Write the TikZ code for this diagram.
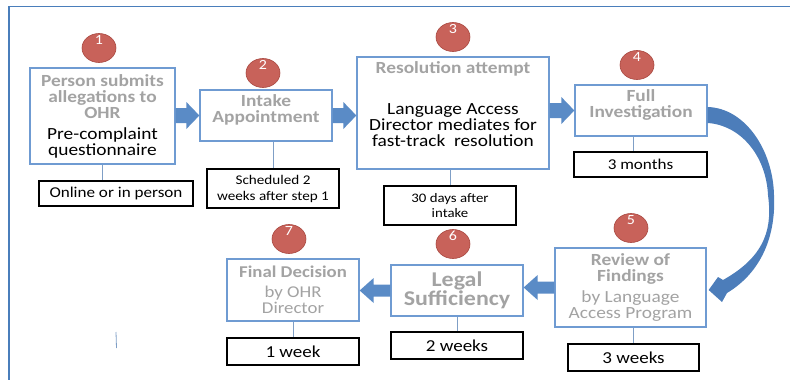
\documentclass[tikz,border=0pt]{standalone}
\usepackage{fontspec}
\setmainfont{Carlito}[FakeStretch=1.14]
\usepackage{tikz}
\usetikzlibrary{shapes.geometric,calc}

\definecolor{boxblue}{HTML}{6F9BD2}
\definecolor{titlegray}{HTML}{A3A3A3}
\definecolor{badgered}{HTML}{C8625A}
\definecolor{badgeedge}{HTML}{A8473F}
\definecolor{flowblue}{HTML}{5A8BC6}
\definecolor{bendblue}{HTML}{4C7DBA}
\definecolor{linkblue}{HTML}{7F9FC6}
\definecolor{framblue}{HTML}{4A7EBB}

\newcommand{\blacktxt}[1]{{\mdseries\color{black}#1}}
\newcommand{\graytxt}[1]{{\mdseries #1}}
% block arrow: from, to, shaft half width, head half width, head length
\newcommand{\blockarrow}[5]{%
  \path ($(#2)!#5!(#1)$) coordinate (hb);
  \fill[flowblue] ($(#1)!#3!90:(#2)$) -- ($(hb)!#3!-90:(#1)$) -- ($(hb)!#4!-90:(#1)$)
     -- (#2) -- ($(hb)!#4!90:(#1)$) -- ($(hb)!#3!90:(#1)$) -- ($(#1)!#3!-90:(#2)$) -- cycle;}

\tikzset{
  stepbox/.style={draw=boxblue, line width=1.3pt, fill=white, align=center, inner sep=1pt,
    text=titlegray, font=\fontsize{17}{16}\selectfont\bfseries},
  notebox/.style={draw=black, line width=1.5pt, fill=white, align=center, inner sep=1pt},
  badge/.style={ellipse, fill=badgered, draw=badgeedge, line width=0.6pt,
    minimum width=34pt, minimum height=29pt, inner sep=0pt},
  badgenum/.style={anchor=north, text=white, inner sep=2pt, font=\fontsize{14}{14}\selectfont},
  link/.style={draw=linkblue, line width=0.8pt}
}

\begin{document}
\begin{tikzpicture}[x=1pt,y=-1pt]
  \useasboundingbox (0,0) rectangle (790,380);
  \draw[framblue, line width=1.6pt] (9,380) -- (9,6.5) -- (790,6.5);
  \draw[linkblue, line width=0.8pt] (116,332) -- (116.5,348);

  % top row
  \draw (102.5,116) node[stepbox, minimum width=145pt, minimum height=96pt] (b1)
     {Person submits\\allegations to\\OHR\\[5pt]\blacktxt{Pre-complaint}\\\blacktxt{questionnaire}};
  \draw (266,115.5) node[stepbox, minimum width=132pt, minimum height=51pt] (b2)
     {Intake\\Appointment\\[-2pt]\mbox{}};
  \draw (453,113) node[stepbox, minimum width=192pt, minimum height=112pt] (b3)
     {Resolution attempt\\[25pt]\blacktxt{Language Access}\\\blacktxt{Director mediates for}\\\blacktxt{fast-track\ \ resolution}\\[2pt]\mbox{}};
  \draw (641,110.5) node[stepbox, minimum width=132pt, minimum height=51pt] (b4)
     {Full\\Investigation\\[-2pt]\mbox{}};

  % bottom row
  \draw (630.5,287.5) node[stepbox, minimum width=151pt, minimum height=79pt] (b5)
     {Review of\\Findings\\[5pt]\graytxt{by Language}\\\graytxt{Access Program}};
  \draw (457,290.5) node[stepbox, minimum width=132pt, minimum height=51pt,
     font=\fontsize{21}{19}\selectfont\bfseries] (b6) {Legal\\Sufficiency};
  \draw (293,290) node[stepbox, minimum width=132pt, minimum height=62pt,
     font=\fontsize{16.5}{16}\selectfont\bfseries] (b7)
     {Final Decision\\[4pt]\graytxt{by OHR}\\\graytxt{Director}};

  % time notes
  \draw (116,193.5) node[notebox, minimum width=154pt, minimum height=25pt,
     font=\fontsize{15}{15}\selectfont] (n1) {Online or in person};
  \draw (273,188.5) node[notebox, minimum width=132pt, minimum height=39pt,
     font=\fontsize{13.3}{16}\selectfont] (n2) {Scheduled 2\\weeks after step 1};
  \draw (450,205.5) node[notebox, minimum width=132pt, minimum height=39pt,
     font=\fontsize{13}{15}\selectfont] (n3) {30 days after\\intake};
  \draw (640.5,164.5) node[notebox, minimum width=133pt, minimum height=25pt,
     font=\fontsize{15}{15}\selectfont] (n4) {3 months};
  \draw (633.5,357.5) node[notebox, minimum width=131pt, minimum height=27pt,
     font=\fontsize{16.7}{16}\selectfont] (n5) {3 weeks};
  \draw (457,345.5) node[notebox, minimum width=132pt, minimum height=27pt,
     font=\fontsize{16.7}{16}\selectfont] (n6) {2 weeks};
  \draw (293,351.5) node[notebox, minimum width=132pt, minimum height=27pt,
     font=\fontsize{16.7}{16}\selectfont] (n7) {1 week};

  % step numbers
  \draw (99,48) node[badge, label={[badgenum]north:1}] (c1) {};
  \draw (263,73) node[badge, label={[badgenum]north:2}] (c2) {};
  \draw (453,37) node[badge, label={[badgenum]north:3}] (c3) {};
  \draw (637,65) node[badge, label={[badgenum]north:4}] (c4) {};
  \draw (631,228) node[badge, label={[badgenum]north:5}] (c5) {};
  \draw (453,244) node[badge, label={[badgenum]north:6}] (c6) {};
  \draw (289,239) node[badge, label={[badgenum]north:7}] (c7) {};

  % boxes to notes
  \path[link] (b1.south) edge (b1.south |- n1.north);
  \path[link] (n2.north |- b2.south) edge (n2.north);
  \path[link] (n3.north |- b3.south) edge (n3.north);
  \path[link] ([xshift=-7pt]n4.north |- b4.south) edge ([xshift=-7pt]n4.north);
  \path[link] (n5.north |- b5.south) edge (n5.north);
  \path[link] (n6.north |- b6.south) edge (n6.north);
  \path[link] (n7.north |- b7.south) edge (n7.north);

  % flow between steps
  \blockarrow{b1.east |- b2.west}{b2.west}{7.5pt}{13.5pt}{13pt}
  \blockarrow{b2.east}{b2.east -| b3.west}{7.5pt}{13.5pt}{13pt}
  \blockarrow{b3.east |- b4.west}{b4.west}{7.5pt}{13.5pt}{13pt}
  \blockarrow{b5.west}{b5.west -| b6.east}{6pt}{12.5pt}{14pt}
  \blockarrow{b6.west}{b6.west -| b7.east}{6pt}{12.5pt}{14pt}

  % bend from 4 down to 5
  \fill[bendblue] ($(b4.east)+(0,-3.5)$) .. controls (745,108) and (773,150) .. (774,195)
     .. controls (776,235) and (762,272) .. (727,293) -- (722,302)
     -- ($(b5.east)+(2,2.5)$) -- (718,277) -- (723,280)
     .. controls (768,255) and (772,225) .. (768,195)
     .. controls (766,155) and (740,125) .. ($(b4.east)+(0,12.5)$) -- cycle;
\end{tikzpicture}
\end{document}
